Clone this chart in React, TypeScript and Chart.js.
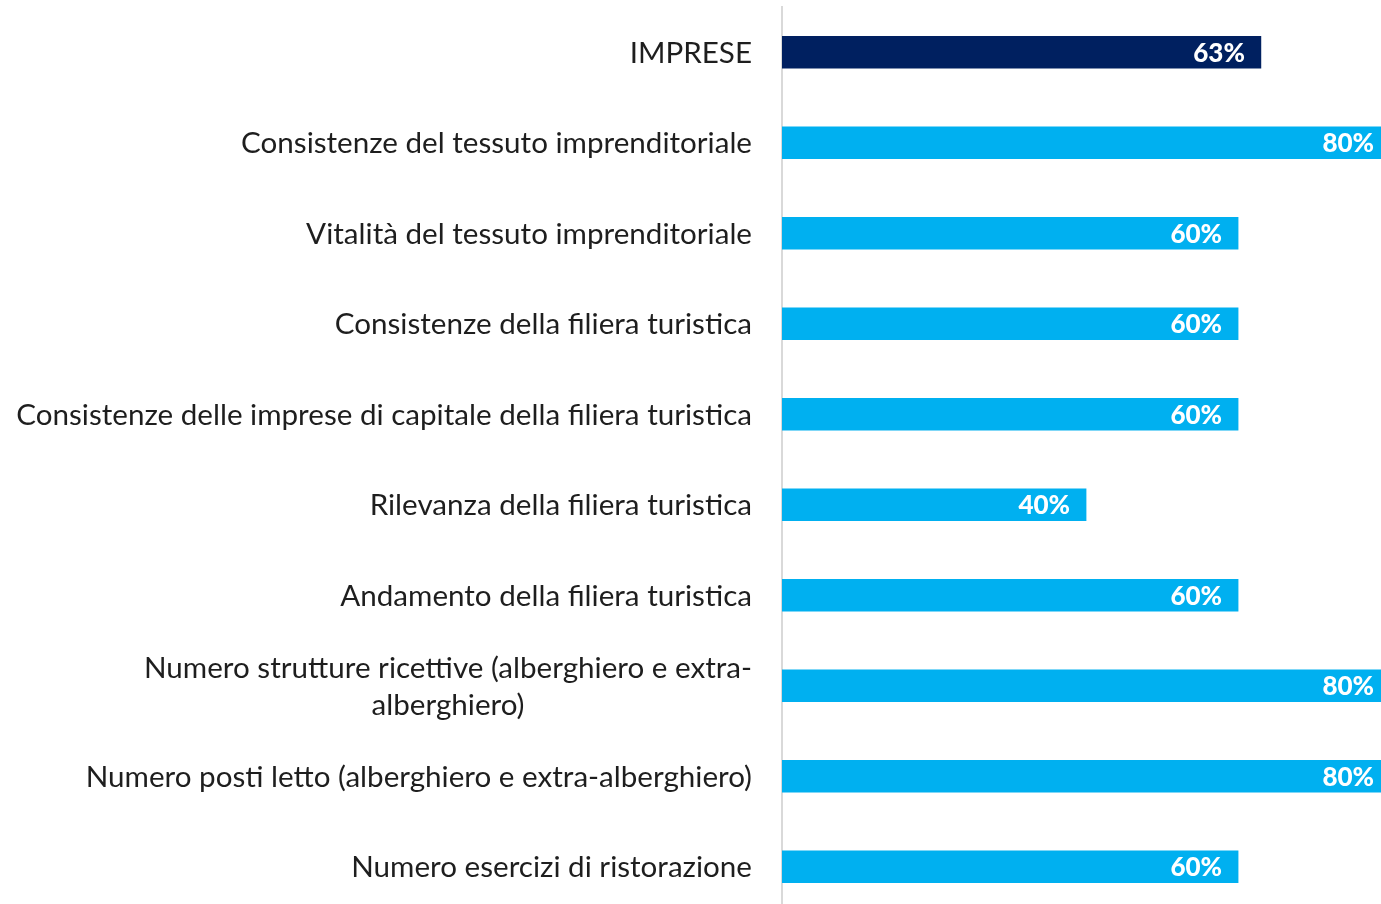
import React, { useEffect, useRef } from "react";
import { Chart, registerables } from "chart.js";

Chart.register(...registerables);

const categories: (string | string[])[] = [
  "IMPRESE",
  "Consistenze del tessuto imprenditoriale",
  "Vitalità del tessuto imprenditoriale",
  "Consistenze della filiera turistica",
  "Consistenze delle imprese di capitale della filiera turistica",
  "Rilevanza della filiera turistica",
  "Andamento della filiera turistica",
  ["Numero strutture ricettive (alberghiero e extra-", "alberghiero)"],
  "Numero posti letto (alberghiero e extra-alberghiero)",
  "Numero esercizi di ristorazione",
];

const values: number[] = [63, 80, 60, 60, 60, 40, 60, 80, 80, 60];

const barColors: string[] = [
  "#002060", "#00B0F0", "#00B0F0", "#00B0F0", "#00B0F0",
  "#00B0F0", "#00B0F0", "#00B0F0", "#00B0F0", "#00B0F0",
];

const LABEL_FONT = "Lato";

const textPlugin = {
  id: "textPlugin",
  afterDatasetsDraw(chart: any) {
    const ctx = chart.ctx as CanvasRenderingContext2D;
    const meta = chart.getDatasetMeta(0);
    ctx.save();
    // value labels
    ctx.font = `900 26px ${LABEL_FONT}`;
    ctx.fillStyle = "#ffffff";
    ctx.textAlign = "right";
    ctx.textBaseline = "middle";
    meta.data.forEach((bar: any, i: number) => {
      ctx.fillText(`${values[i]}%`, bar.x - 16, bar.y + 1);
    });
    // category labels
    const yScale = chart.scales.y;
    const right = chart.chartArea.left - 30;
    const lineH = 37;
    ctx.font = `29.6px ${LABEL_FONT}`;
    ctx.fillStyle = "#1e1e1e";
    ctx.textAlign = "center";
    categories.forEach((c, i) => {
      const lines = Array.isArray(c) ? c : [c];
      const y = yScale.getPixelForTick(i);
      const maxW = Math.max(...lines.map((l) => ctx.measureText(l).width));
      const cx = right - maxW / 2;
      lines.forEach((l, j) => {
        ctx.fillText(l, cx, y + (j - (lines.length - 1) / 2) * lineH + 1);
      });
    });
    ctx.restore();
  },
};

export default function App() {
  const ref = useRef<HTMLCanvasElement | null>(null);
  useEffect(() => {
    if (!ref.current) return;
    const chart = new Chart(ref.current, {
      type: "bar",
      data: {
        labels: categories as any,
        datasets: [
          {
            data: values,
            backgroundColor: barColors,
            barThickness: 32,
            borderWidth: 0,
          },
        ],
      },
      options: {
        indexAxis: "y",
        animation: false,
        responsive: true,
        maintainAspectRatio: false,
        layout: { padding: { top: 7, left: 0, right: 0, bottom: 0 } },
        plugins: {
          legend: { display: false },
          tooltip: { enabled: false },
        },
        scales: {
          x: {
            display: false,
            min: 0,
            max: 78.8,
          },
          y: {
            display: true,
            ticks: { display: false },
            grid: { display: false, drawTicks: false },
            border: { display: true, color: "#d9d9d9", width: 2 },
            afterFit: (scale: any) => {
              scale.width = 782;
            },
          },
        },
      },
      plugins: [textPlugin],
    });
    return () => chart.destroy();
  }, []);
  return (
    <div
      style={{
        position: "fixed",
        left: 0,
        top: 0,
        width: 1381,
        height: 912,
        background: "#ffffff",
      }}
    >
      <canvas ref={ref} />
    </div>
  );
}
